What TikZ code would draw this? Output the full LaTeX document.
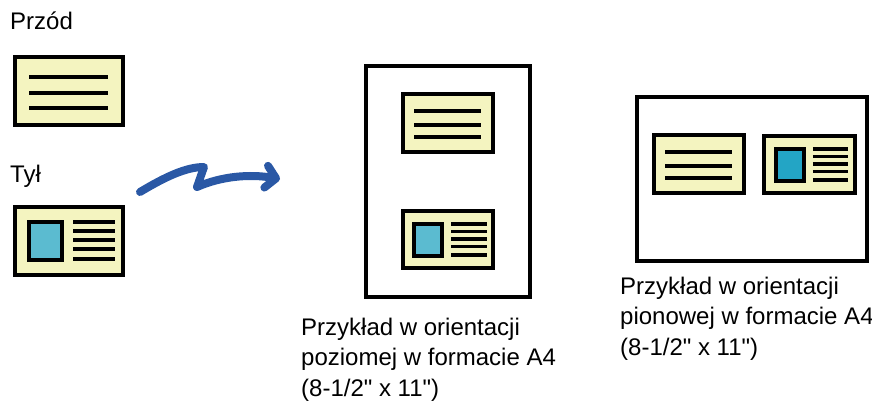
\documentclass[tikz,border=0pt]{standalone}
\usepackage{fontspec}
\setmainfont{Liberation Sans}[Ligatures=TeXOff]
\usepackage{tikz}
\usetikzlibrary{arrows.meta}
\definecolor{Cream}{HTML}{F4F4C0}
\definecolor{PhotoBlue}{HTML}{5BBBD0}
\definecolor{PhotoTeal}{HTML}{23A5C5}
\definecolor{SwoopBlue}{HTML}{2A58A5}
\tikzset{
  cardframe/.style={draw=black,line width=4pt},
  page/.style={cardframe,fill=white,inner sep=0pt},
  frontline/.style={line width=4pt},
  backline/.style={line width=3.3pt},
  caption/.style={font=\fontsize{24pt}{30.5pt}\selectfont,inner sep=0pt,align=left},
  swoop/.style={draw=SwoopBlue,line width=8pt,line cap=round,line join=round,
    -{Straight Barb[length=10pt,width=22pt,round]}},
  pics/frontcard/.style={code={
    \draw[cardframe,fill=Cream] (-54,-34) rectangle (54,34);
    \foreach \y in {-14,2,17} \draw[frontline] (-40,\y) -- (39,\y);
  }},
  pics/backcard/.style={code={
    \draw[cardframe,fill=Cream] (-54,-34) rectangle (54,34);
    \draw[cardframe,fill=#1] (-40,-18.5) rectangle (-7,19.5);
    \foreach \y in {-18.5,-9.5,-0.5,8.5,18.5} \draw[backline] (4,\y) -- (46,\y);
  }}
}
\begin{document}
\begin{tikzpicture}[x=1pt,y=-1pt]
  \useasboundingbox (0,0) rectangle (872,401);
  \node[caption,anchor=base west] (frontlabel) at (10,30) {Przód};
  \node[caption,anchor=base west] (backlabel) at (10,182) {Tył};
  \pic (front) at (69,91) {frontcard};
  \pic (back) at (69,240.5) {backcard=PhotoBlue};
  \node[page,minimum width=164pt,minimum height=231pt] (portrait) at (448,181.5) {};
  \pic[scale=0.84] (portraitfront) at (448,123) {frontcard};
  \pic[scale=0.84] (portraitback) at (448,239.5) {backcard=PhotoBlue};
  \node[page,minimum width=230pt,minimum height=164pt] (landscape) at (752,179) {};
  \pic[scale=0.84] (landscapefront) at (699,164) {frontcard};
  \pic[scale=0.84] (landscapeback) at (809.5,164.5) {backcard=PhotoTeal};
  \node[caption,anchor=base west] (portraitcaption) at (301,396)
    {Przykład w orientacji\\poziomej w formacie A4\\(8-1/2" x 11")};
  \node[caption,anchor=base west] (landscapecaption) at (620,355)
    {Przykład w orientacji\\pionowej w formacie A4\\(8-1/2" x 11")};
  \coordinate (swoopstart) at (140,192);
  \coordinate (swoopend) at (280,179);
  \draw[swoop] (swoopstart) .. controls (165,177) and (186,167) .. (204,167)
    -- (197,187) .. controls (222,176) and (250,174) .. (swoopend);
\end{tikzpicture}
\end{document}
